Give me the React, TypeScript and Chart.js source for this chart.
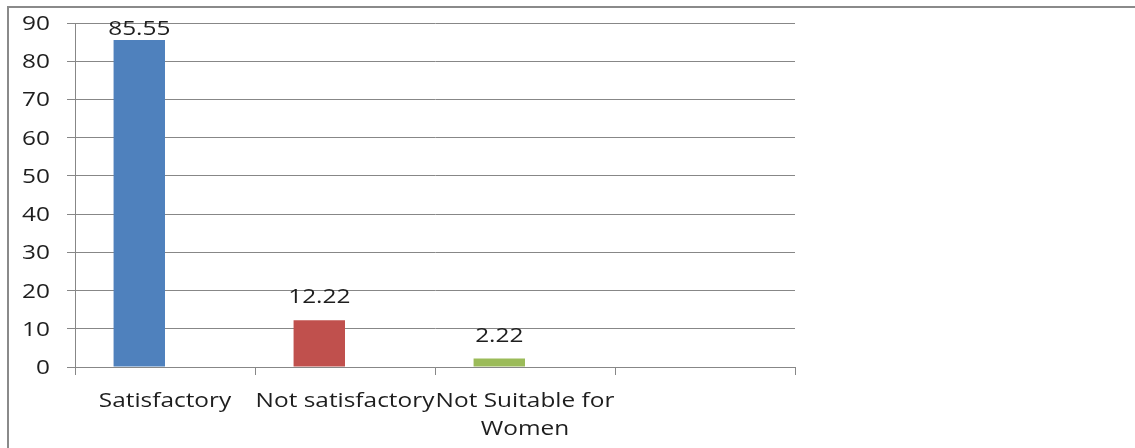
import React, { useEffect, useRef } from "react";
import { Chart, registerables } from "chart.js";

Chart.register(...registerables);

const categories: (string | string[])[] = [
  "Satisfactory",
  "Not satisfactory",
  ["Not Suitable for", "Women"],
  "",
];
const values: (number | null)[] = [85.55, 12.22, 2.22, null];
const emptySeries: (number | null)[] = [null, null, null, null];
const barColors = ["#4F81BD", "#C0504D", "#9BBB59", "#4F81BD"];
const yTicks = [0, 10, 20, 30, 40, 50, 60, 70, 80, 90];

const FONT = "20px 'Open Sans', sans-serif";
const TEXT = "#1e1e1e";
const GRID = "#878787";
const STRETCH = 1.22; // wide text face

function wideText(ctx: CanvasRenderingContext2D, text: string, x: number, y: number, align: CanvasTextAlign) {
  ctx.save();
  ctx.translate(x, y);
  ctx.scale(STRETCH, 1);
  ctx.textAlign = align;
  ctx.textBaseline = "alphabetic";
  ctx.fillText(text, 0, 0);
  ctx.restore();
}

// Axis labels and bar values, drawn with a horizontally widened face
const chartText = {
  id: "chartText",
  afterDraw(chart: any) {
    const { ctx, chartArea, scales } = chart;
    ctx.save();
    ctx.font = FONT;
    ctx.fillStyle = TEXT;

    const yScale = scales.y;
    yTicks.forEach((v) => {
      wideText(ctx, String(v), chartArea.left - 25, yScale.getPixelForValue(v) + 7, "right");
    });

    const xScale = scales.x;
    categories.forEach((label, i) => {
      const lines = Array.isArray(label) ? label : [label];
      const x = xScale.getPixelForValue(i);
      lines.forEach((line, j) => {
        wideText(ctx, line, x, chartArea.bottom + 39.5 + j * 28.5, "center");
      });
    });

    const meta = chart.getDatasetMeta(0);
    meta.data.forEach((bar: any, i: number) => {
      const v = values[i];
      if (v == null) return;
      const y = Math.max(bar.y - 17, chartArea.top + 12);
      wideText(ctx, v.toFixed(2), bar.x, y, "center");
    });
    ctx.restore();
  },
};

export default function App() {
  const canvasRef = useRef<HTMLCanvasElement>(null);

  useEffect(() => {
    const canvas = canvasRef.current;
    if (!canvas) return;
    const chart = new Chart(canvas, {
      type: "bar",
      data: {
        labels: categories,
        datasets: [
          {
            data: values,
            backgroundColor: barColors,
            borderWidth: 0,
            categoryPercentage: 2 / 3.5,
            barPercentage: 1,
          },
          {
            data: emptySeries,
            backgroundColor: "#C0504D",
            borderWidth: 0,
            categoryPercentage: 2 / 3.5,
            barPercentage: 1,
          },
        ],
      },
      options: {
        responsive: false,
        animation: false,
        layout: { padding: { left: 0, right: 340, top: 23, bottom: 0 } },
        plugins: {
          legend: { display: false },
          tooltip: { enabled: false },
          title: { display: false },
        },
        scales: {
          x: {
            offset: true,
            grid: {
              display: true,
              offset: true,
              drawOnChartArea: false,
              drawTicks: true,
              tickLength: 8,
              color: GRID,
            },
            border: { display: true, color: GRID },
            ticks: { display: false, autoSkip: false },
            afterFit(scale: any) {
              scale.height = 81;
            },
          },
          y: {
            min: 0,
            max: 90,
            afterBuildTicks(scale: any) {
              scale.ticks = yTicks.map((v) => ({ value: v }));
            },
            grid: {
              color: GRID,
              tickLength: 8,
              drawTicks: true,
            },
            border: { display: true, color: GRID },
            ticks: { display: false },
            afterFit(scale: any) {
              scale.width = 75;
            },
          },
        },
      },
      plugins: [chartText],
    });
    return () => chart.destroy();
  }, []);

  return (
    <div style={{ position: "fixed", left: 0, top: 0, width: 1135, height: 448, overflow: "hidden", background: "#fff" }}>
      <div
        style={{
          position: "absolute",
          left: 7,
          top: 6,
          width: 1140,
          height: 460,
          borderTop: "2px solid #8a8a8a",
          borderLeft: "2px solid #8a8a8a",
        }}
      />
      <canvas
        ref={canvasRef}
        width={1135}
        height={448}
        style={{ position: "absolute", left: 0, top: 0, width: 1135, height: 448 }}
      />
    </div>
  );
}
